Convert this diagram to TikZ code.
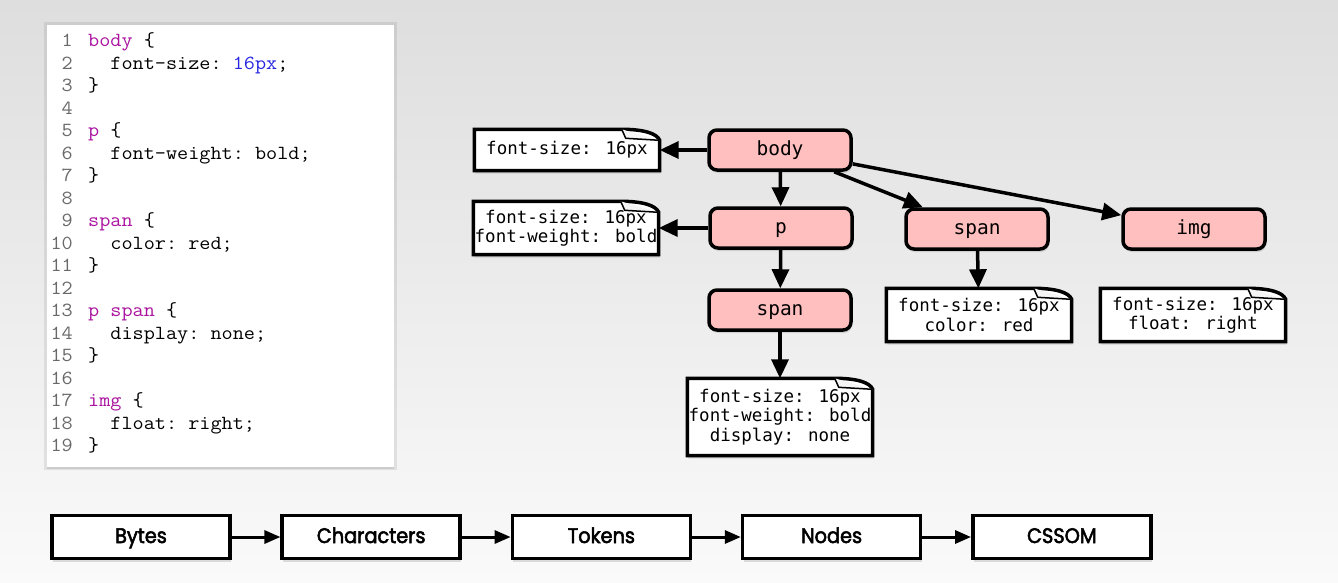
\documentclass[tikz,border=0pt]{standalone}
\usepackage{fontspec}
\setmonofont[FakeStretch=1.08]{Latin Modern Mono}
\newfontfamily\treefont{DejaVu Sans Mono}
\newfontfamily\pipefont[FakeBold=2.5, FakeStretch=0.92]{Poppins}
\usetikzlibrary{arrows.meta,shadows}
\pgfdeclarelayer{back}
\pgfdeclarelayer{paper}
\pgfsetlayers{back,paper,main}
\definecolor{nodepink}{RGB}{255,191,191}
\definecolor{csskey}{RGB}{170,20,160}
\definecolor{cssnum}{RGB}{40,40,225}
\definecolor{lineno}{RGB}{105,105,105}
\newcommand{\kw}[1]{{\color{csskey}#1}}
\newcommand{\ind}{\phantom{xx}}
\begin{document}
\begin{tikzpicture}[x=1pt, y=-1pt]
    % Define styles
    \tikzset{
        soft shadow/.style={drop shadow={opacity=0.25, shadow xshift=1pt, shadow yshift=-3pt}},
        elem/.style={draw, line width=3.5pt, fill=nodepink, rounded corners=8pt,
            minimum width=142pt, minimum height=40pt, soft shadow,
            text height=14pt, text depth=4pt,
            font=\treefont\fontsize{19.5}{22}\selectfont},
        note/.style={inner sep=0pt, minimum width=185pt, minimum height=53pt, align=center,
            font=\treefont\fontsize{17.5}{19.5}\selectfont},
        paper/.style={draw, line width=3.5pt, fill=white, soft shadow},
        flap/.style={draw, line width=1.5pt, fill=white!96!black, line join=round},
        stage/.style={draw, line width=3.5pt, fill=white, minimum width=178pt,
            minimum height=43pt, soft shadow, text height=15pt, text depth=3pt,
            font=\pipefont\fontsize{21}{24}\selectfont},
        tree arrow/.style={line width=3.5pt, -{Triangle[length=19pt,width=17pt]}},
        pipe arrow/.style={line width=3pt, -{Triangle[length=16pt,width=13pt]}},
        codeline/.style={anchor=base west, inner sep=0pt,
            font=\ttfamily\fontsize{20}{22.5}\selectfont},
        linenum/.style={codeline, anchor=base east, text=lineno}
    }

    % Background
    \begin{pgfonlayer}{back}
        \fill[top color=black!13, bottom color=black!2] (0,0) rectangle (1338,582);
    \end{pgfonlayer}
    \useasboundingbox (0,0) rectangle (1338,582);

    % Code panel
    \draw[line width=6pt, black, opacity=0.08] (47,25) rectangle (394,467);
    \fill[white, drop shadow={opacity=0.2, shadow xshift=0pt, shadow yshift=-2pt}] (47,25) rectangle (394,467);
    \foreach \i in {1,...,19} {
        \node[linenum] (num\i) at (73, 46.7+22.5*\i-22.5) {\i};
    }
    \foreach \i/\txt in {1/{\kw{body} \{}, 2/{\ind font-size: {\color{cssnum}16px};}, 3/{\}},
        5/{\kw{p} \{}, 6/{\ind font-weight: bold;}, 7/{\}},
        9/{\kw{span} \{}, 10/{\ind color: red;}, 11/{\}},
        13/{\kw{p span} \{}, 14/{\ind display: none;}, 15/{\}},
        17/{\kw{img} \{}, 18/{\ind float: right;}, 19/{\}}} {
        \node[codeline] (code\i) at (88, 46.7+22.5*\i-22.5) {\txt};
    }

    % Tree of rules
    \node[elem] (body) at (780,150) {body};
    \node[elem] (p) at (781,228) {p};
    \node[elem] (pspan) at (780,310) {span};
    \node[elem] (span) at (977,229) {span};
    \node[elem] (img) at (1194,229) {img};

    % Computed styles
    \node[note, minimum height=41pt] (n1) at (567,150) {font-size: 16px};
    \node[note] (n2) at (566,228) {font-size: 16px\\font-weight: bold};
    \node[note, minimum height=77pt] (n3) at (780,417) {font-size: 16px\\font-weight: bold\\display: none};
    \node[note] (n4) at (979,315) {font-size: 16px\\color: red};
    \node[note] (n5) at (1193,315) {font-size: 16px\\float: right};

    % Folded paper behind the notes
    \begin{pgfonlayer}{paper}
        \foreach \n in {n1,n2,n3,n4,n5} {
            \draw[paper] (\n.south west) -- (\n.north west) -- ([xshift=-38pt]\n.north east)
                .. controls ([xshift=-16pt]\n.north east) and ([xshift=-3pt,yshift=-4pt]\n.north east)
                .. ([yshift=-11pt]\n.north east) -- (\n.south east) -- cycle;
            \draw[flap] ([xshift=-38pt]\n.north east) -- ([xshift=-34pt,yshift=-9pt]\n.north east)
                -- ([yshift=-11pt]\n.north east);
        }
    \end{pgfonlayer}

    % Tree arrows
    \draw[tree arrow] (body) -- (n1);
    \draw[tree arrow] (body) -- (p);
    \draw[tree arrow] (body) -- (span);
    \draw[tree arrow] (body) -- (img);
    \draw[tree arrow] (p) -- (n2);
    \draw[tree arrow] (p) -- (pspan);
    \draw[tree arrow] (pspan) -- (n3);
    \draw[tree arrow] (span) -- (n4);

    % Pipeline
    \foreach \name [count=\k] in {Bytes,Characters,Tokens,Nodes,CSSOM} {
        \node[stage] (\name) at (141+230.2*\k-230.2, 537) {\name};
    }
    \foreach \a/\b in {Bytes/Characters, Characters/Tokens, Tokens/Nodes, Nodes/CSSOM} {
        \draw[pipe arrow] (\a) -- (\b);
    }
\end{tikzpicture}
\end{document}
